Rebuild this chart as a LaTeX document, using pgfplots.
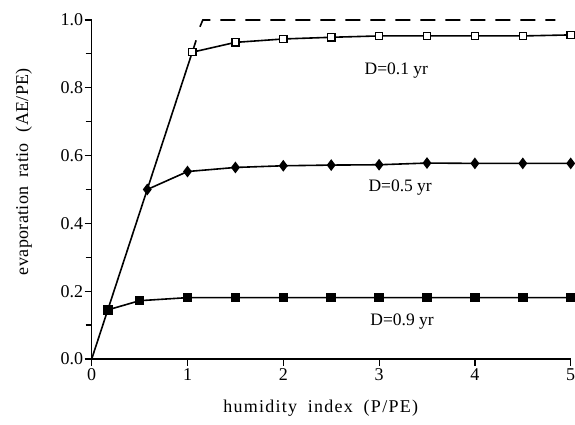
\documentclass[border=0pt]{standalone}
\usepackage{fontspec}
\setmainfont{Liberation Serif}
\usepackage{pgfplots}
\pgfplotsset{compat=1.18}
\begin{document}
\begin{tikzpicture}
\begin{axis}[
 scale only axis, width=479pt, height=339pt,
 xmin=0,xmax=5,ymin=0,ymax=1,
 axis x line*=bottom, axis y line*=left,
 axis line style={line width=1.6pt},
 xtick={0,1,2,3,4,5}, ytick={0,0.2,0.4,0.6,0.8,1.0},
 minor ytick={0.1,0.3,0.5,0.7,0.9},
 tick align=outside, major tick length=7pt, minor tick length=6pt,
 tick style={line width=1.2pt, black},
 tick label style={font=\fontsize{18}{20}\selectfont},
 xticklabel style={yshift=1pt},
 y tick label style={xshift=2pt, /pgf/number format/.cd, fixed, fixed zerofill, precision=1},
 /pgf/number format/assume math mode=true,
 xlabel={humidity\hspace{0.6em}index\hspace{0.6em}(P/PE)},
 ylabel={evaporation\hspace{0.5em}ratio\hspace{0.6em}(AE/PE)},
 xlabel style={font=\fontsize{18}{20}\selectfont\addfontfeature{LetterSpace=7},at={(axis description cs:0.478,-0.1445)},anchor=center},
 ylabel style={font=\fontsize{18}{20}\selectfont\addfontfeature{LetterSpace=2},at={(axis description cs:-0.142,0.553)},anchor=center},
 clip=false,
]
% potential line
\addplot[black, line width=1.6pt, no marks] coordinates {(0,0) (1.09,0.94)};
\addplot[black, line width=1.6pt, no marks, dash pattern=on 15pt off 10pt] coordinates {(1.13,0.98) (1.16,1.0) (4.84,1.0)};
% D=0.1
\addplot[black, line width=1.6pt, mark=square*, mark size=3.6pt, mark options={fill=white, line width=1.4pt, solid}] coordinates {
(1.05,0.905) (1.5,0.934) (2,0.944) (2.5,0.949) (3,0.953) (3.5,0.953) (4,0.953) (4.5,0.953) (5,0.956)};
% D=0.5
\addplot[black, line width=1.6pt, mark=diamond*, mark size=4.6pt] coordinates {
(0.58,0.50) (1,0.553) (1.5,0.565) (2,0.570) (2.5,0.572) (3,0.573) (3.5,0.578) (4,0.577) (4.5,0.577) (5,0.577)};
% D=0.9
\addplot[black, line width=1.6pt, mark=square*, mark size=4pt] coordinates {
(0.17,0.145) (0.5,0.172) (1,0.181) (1.5,0.181) (2,0.181) (2.5,0.181) (3,0.181) (3.5,0.181) (4,0.181) (4.5,0.181) (5,0.181)};
\node[font=\fontsize{17.5}{20}\selectfont] at (axis cs:3.18,0.85) {D=0.1 yr};
\node[font=\fontsize{17.5}{20}\selectfont] at (axis cs:3.22,0.505) {D=0.5 yr};
\node[font=\fontsize{17.5}{20}\selectfont] at (axis cs:3.24,0.11) {D=0.9 yr};
\end{axis}
\pgfresetboundingbox
\path[use as bounding box] (-91.7pt,-66pt) rectangle (483.3pt,359pt);
\end{tikzpicture}
\end{document}
